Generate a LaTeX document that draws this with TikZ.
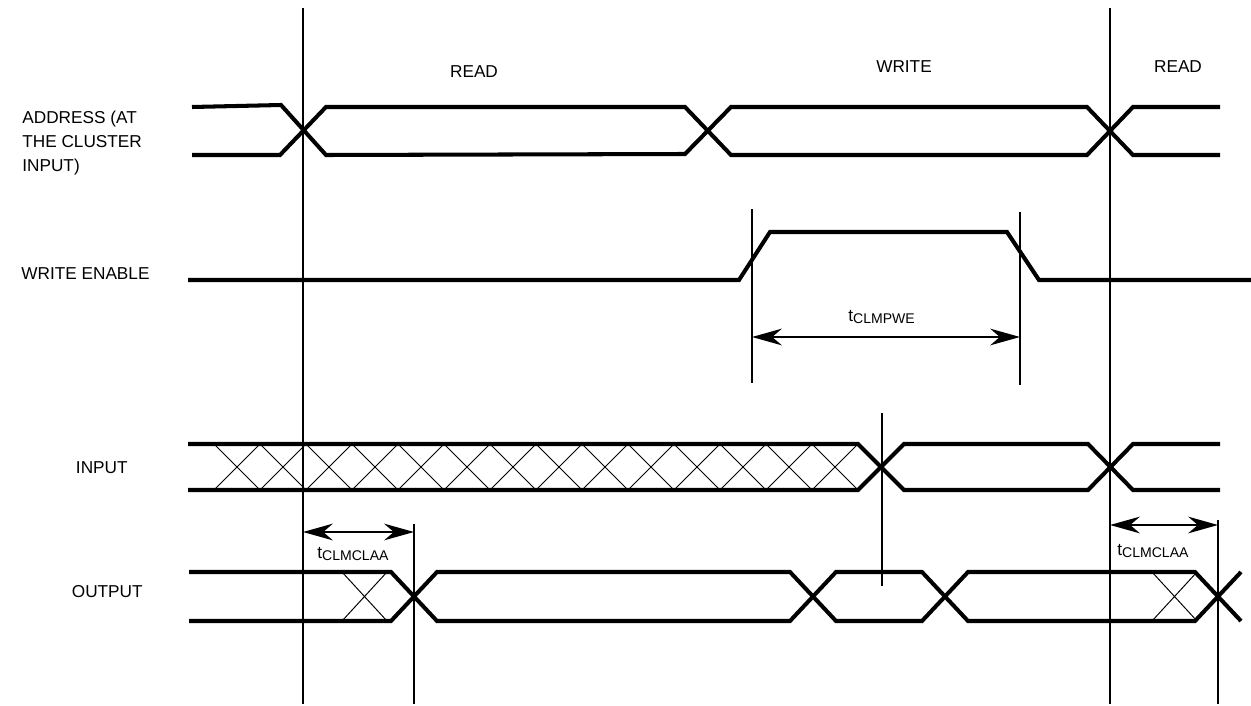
\documentclass[tikz,border=0pt]{standalone}
\usepackage{fontspec}
\setmainfont{Liberation Sans}
\usetikzlibrary{arrows.meta}
\newcommand{\tsub}[2]{#1\raisebox{-1.3pt}{\fontsize{8}{9}\selectfont #2}}

\begin{document}
\begin{tikzpicture}[
  x=0.02cm, y=-0.02cm,
  sig/.style={line width=2.3pt},
  hatch/.style={line width=0.55pt},
  guide/.style={line width=1.1pt},
  dim/.style={line width=0.9pt, {Stealth[length=17pt,width=9.5pt]}-{Stealth[length=17pt,width=9.5pt]}},
  lbl/.style={font=\fontsize{9.8}{13.6}\selectfont, inner sep=0pt}
]
  \useasboundingbox (0,0) rectangle (1251,706);

  % signal names
  \node[lbl, anchor=north west, align=left] (addrlbl) at (22,111) {ADDRESS (AT\\THE CLUSTER\\INPUT)};
  \node[lbl, anchor=base west] (welbl) at (21,279) {WRITE ENABLE};
  \node[lbl, anchor=base east] (inlbl) at (128,473) {INPUT};
  \node[lbl, anchor=base east] (outlbl) at (143,597) {OUTPUT};

  % cycle names
  \node[lbl, anchor=base] (read1) at (474,78) {READ};
  \node[lbl, anchor=base] (write) at (904,73) {WRITE};
  \node[lbl, anchor=base] (read2) at (1178,73) {READ};

  % reference lines
  \draw[guide] (303,8) -- (303,704);
  \draw[guide] (1110,8) -- (1110,704);
  \draw[guide] (414,524) -- (414,704);
  \draw[guide] (1218,520) -- (1218,704);
  \draw[guide] (752,209) -- (752,383);
  \draw[guide] (1020,212) -- (1020,385);
  \draw[guide] (882,413) -- (882,586);

  % address
  \draw[sig] (192,107) -- (281,105) -- (326,155) -- (685,154) -- (731,107) -- (1087,107) -- (1133,155) -- (1220,155);
  \draw[sig] (192,155) -- (280,155) -- (326,107) -- (685,107) -- (731,155) -- (1087,155) -- (1133,107) -- (1220,107);

  % write enable
  \draw[sig] (188,280) -- (739,280) -- (770,232) -- (1007,232) -- (1039,280) -- (1258,280);

  % input
  \draw[sig] (188,444) -- (858,444) -- (904,490) -- (1088,490) -- (1133,444) -- (1220,444);
  \draw[sig] (188,490) -- (858,490) -- (904,444) -- (1088,444) -- (1133,490) -- (1220,490);
  \foreach \i in {0,...,13}
    \draw[hatch] ({214+46*\i},444) -- ({260+46*\i},490) ({214+46*\i},490) -- ({260+46*\i},444);

  % output
  \draw[sig] (189,572) -- (391,572) -- (437,621) -- (790,621) -- (836,572) -- (922,572) -- (968,621) -- (1195,621) -- (1241,572);
  \draw[sig] (189,621) -- (391,621) -- (437,572) -- (790,572) -- (836,621) -- (922,621) -- (968,572) -- (1195,572) -- (1241,621);
  \draw[hatch] (342,572) -- (387,621) (342,621) -- (387,572);
  \draw[hatch] (1152,572) -- (1197,621) (1152,621) -- (1197,572);

  % timing parameters
  \coordinate (pwA) at (752,337);
  \coordinate (pwB) at (1020,337);
  \coordinate (aaA) at (303,532);
  \coordinate (aaB) at (414,532);
  \coordinate (abA) at (1110,525);
  \coordinate (abB) at (1218,525);
  \draw[dim] (pwA) -- (pwB);
  \draw[dim] (aaA) -- (aaB);
  \draw[dim] (abA) -- (abB);
  \node[lbl, anchor=base west] (tpwe) at (848,321) {\tsub{t}{CLMPWE}};
  \node[lbl, anchor=base west] (taa1) at (317,558) {\tsub{t}{CLMCLAA}};
  \node[lbl, anchor=base west] (taa2) at (1117,555) {\tsub{t}{CLMCLAA}};
\end{tikzpicture}
\end{document}
